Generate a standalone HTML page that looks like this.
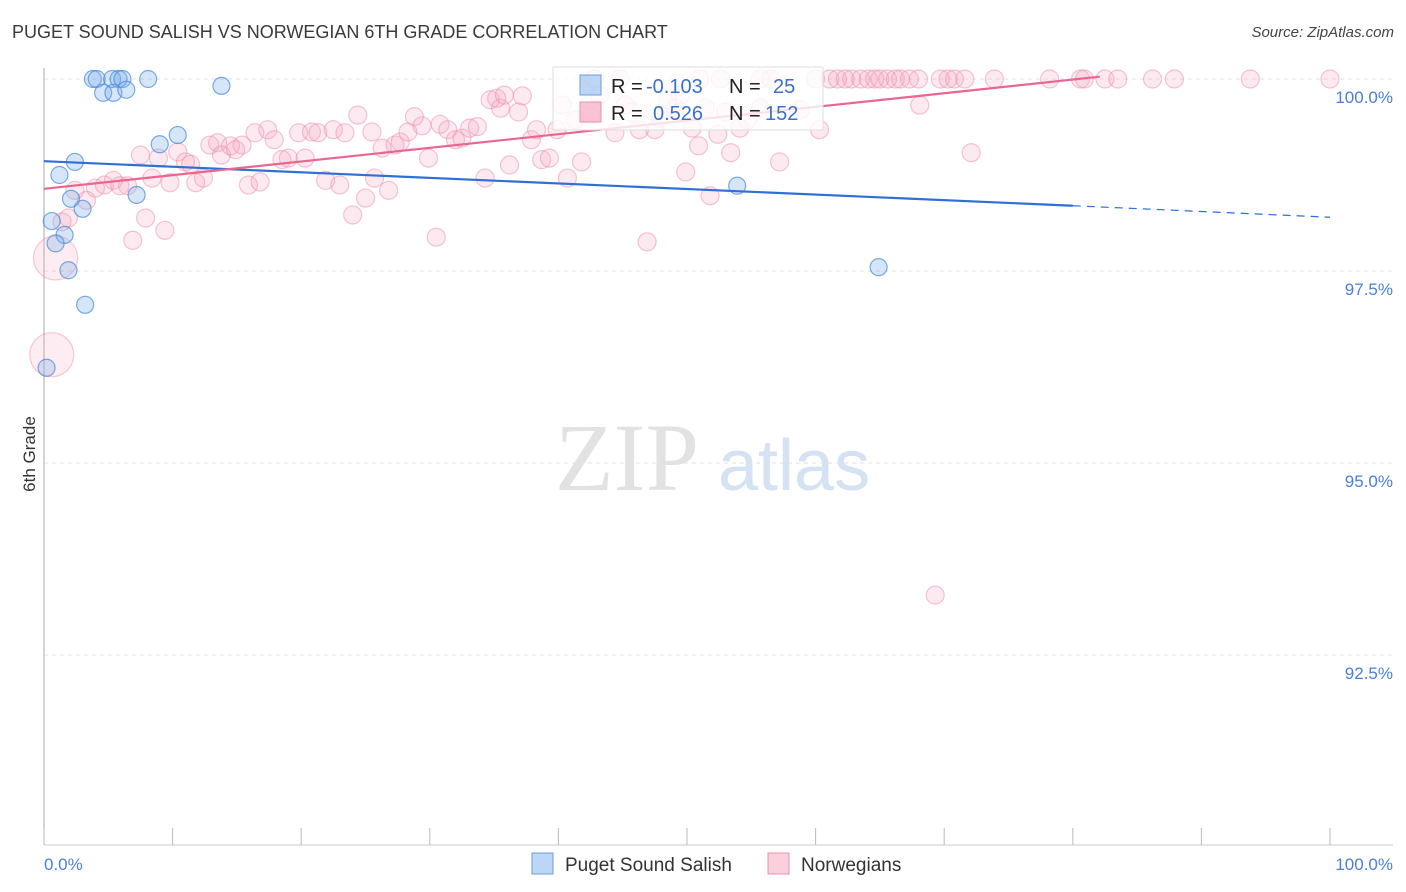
<!DOCTYPE html>
<html><head><meta charset="utf-8">
<style>
body{margin:0;background:#fff;font-family:"Liberation Sans",sans-serif;}
#wrap{position:relative;width:1406px;height:892px;overflow:hidden;}
.t{position:absolute;white-space:nowrap;}
</style></head>
<body>
<div id="wrap">
<div class="t" style="left:12px;top:22px;font-size:18px;color:#3a3a3a;">PUGET SOUND SALISH VS NORWEGIAN 6TH GRADE CORRELATION CHART</div>
<div class="t" style="right:12px;top:24px;font-size:15px;color:#444;font-style:italic;">Source: ZipAtlas.com</div>
<div class="t" style="left:-10px;top:444px;font-size:17px;color:#333;transform:rotate(-90deg);transform-origin:center;width:80px;text-align:center;">6th Grade</div>
<svg id="svg" width="1406" height="892" style="position:absolute;left:0;top:0"></svg>
</div>
<script>
const yTicks=[100,97.5,95,92.5];
const yTickLabels=["100.0%","97.5%","95.0%","92.5%"];
const xTickLabels=["0.0%","100.0%"];
const blueX=[3.8,4.1,5.3,5.8,6.1,8.1,4.6,5.4,6.4,13.8,9.0,10.4,2.4,1.2,2.1,3.0,0.6,1.6,0.9,7.2,1.9,3.2,0.2,53.9,64.9];
const blueY=[100,100,100,100,100,100,99.82,99.82,99.86,99.91,99.15,99.27,98.92,98.75,98.44,98.31,98.15,97.97,97.86,98.49,97.51,97.06,96.24,98.61,97.55];
const pinkX=[42.8,44.8,51.0,55.7,60.0,61.1,61.7,62.3,62.8,63.5,64.1,64.6,65.0,65.6,66.2,66.6,67.3,68.0,69.7,70.3,70.8,71.6,73.9,78.2,80.6,80.9,82.5,83.5,86.2,87.9,93.8,100,56.5,52.6,
1.4,1.9,2.4,3.3,4.0,4.7,5.4,5.9,6.5,6.9,7.5,7.9,8.4,8.9,9.4,9.8,10.4,11.0,11.4,11.8,12.4,12.9,13.5,13.8,14.5,14.9,15.4,15.9,16.4,16.8,17.4,17.9,18.5,19.0,19.8,20.3,20.8,21.3,21.9,22.5,23.0,23.4,24.0,24.4,25.0,25.5,25.7,26.3,26.8,27.3,27.7,28.3,28.8,29.4,29.9,30.5,30.8,31.4,32.0,32.5,33.1,33.7,34.3,34.7,35.2,35.5,35.8,36.2,36.9,37.2,37.9,38.3,38.7,39.3,39.9,40.3,40.7,41.3,41.8,42.5,43.2,44.4,45.2,45.7,46.3,46.9,47.5,47.9,48.5,49.1,49.5,49.9,50.4,50.9,51.4,51.8,52.4,53.0,53.4,54.1,54.7,55.7,57.2,58.8,60.3,68.1,72.1,69.3];
const pinkY=[100,100,100,100,100,100,100,100,100,100,100,100,100,100,100,100,100,100,100,100,100,100,100,100,100,100,100,100,100,100,100,100,100,100,
98.14,98.19,98.55,98.42,98.58,98.62,98.68,98.61,98.61,97.9,99.01,98.19,98.71,98.97,98.03,98.65,99.05,98.92,98.89,98.65,98.71,99.14,99.17,99.01,99.13,99.08,99.14,98.62,99.3,98.66,99.34,99.21,98.95,98.97,99.3,98.97,99.31,99.3,98.68,99.34,98.62,99.3,98.23,99.53,98.45,99.31,98.71,99.1,98.55,99.14,99.18,99.31,99.51,99.39,98.97,97.94,99.41,99.34,99.21,99.23,99.36,99.38,98.71,99.73,99.75,99.62,99.79,98.88,99.57,99.78,99.21,99.34,98.95,98.97,99.34,99.66,98.71,99.47,98.92,99.53,99.79,99.3,99.66,99.57,99.34,97.88,99.34,99.49,99.73,99.62,99.79,98.79,99.36,99.13,99.62,98.48,99.28,99.57,99.04,99.36,99.47,99.62,98.92,99.6,99.34,99.66,99.04,93.28];
const pinkLargeX=[0.9,0.6];
const pinkLargeY=[97.67,96.41];
const blueTrendX=[0,80,100];
const blueTrendY=[98.93,98.35,98.2];
const pinkTrendX=[0,82.1];
const pinkTrendY=[98.57,100.03];

const X0=44,X1=1330,Y100=79,PXPER=76.8;
const sx=v=>X0+(X1-X0)*v/100;
const sy=v=>Y100+(100-v)*PXPER;
const svg=document.getElementById('svg');
const NS='http://www.w3.org/2000/svg';
function mk(tag,attrs,parent){const e=document.createElementNS(NS,tag);for(const k in attrs)e.setAttribute(k,attrs[k]);(parent||svg).appendChild(e);return e;}

let wm=mk('text',{x:555,y:490,'font-size':96,fill:'#e2e2e2','font-family':'Liberation Serif, serif'});wm.textContent='ZIP';

let wm2=mk('text',{x:718,y:490,'font-size':72,fill:'#d4e2f4','font-family':'Liberation Sans, sans-serif'});wm2.textContent='atlas';


yTicks.forEach((v,i)=>{
 const g=mk('line',{x1:X0,x2:1393,y1:sy(v),y2:sy(v),stroke:'#e0e0e0','stroke-dasharray':'4,4'});
 
 const t=mk('text',{x:1393,y:sy(v)+24,'text-anchor':'end','font-size':17,fill:'#4a80d8'});t.textContent=yTickLabels[i];
 
});
let ax=mk('line',{x1:X0,x2:X0,y1:68,y2:845,stroke:'#aaa'});
let axx=mk('line',{x1:X0,x2:1393,y1:845,y2:845,stroke:'#ccc'});
for(let i=0;i<=10;i++){const tk=mk('line',{x1:sx(i*10),x2:sx(i*10),y1:828,y2:845,stroke:'#bbb'});}
[0,100].forEach((v,i)=>{const t=mk('text',{x:i?1393:44,y:870,'text-anchor':i?'end':'start','font-size':17,fill:'#4a80d8'});t.textContent=xTickLabels[i];});

function pts(xs,ys,r,fill,stroke,name){xs.forEach((x,i)=>{const c=mk('circle',{cx:sx(x),cy:sy(ys[i]),r:r,fill:fill,stroke:stroke,'stroke-width':1.2});});}
pts(pinkX,pinkY,9,'rgba(244,160,188,0.22)','rgba(236,140,170,0.5)','norwegian-point');
pts(pinkLargeX,pinkLargeY,22,'rgba(244,160,188,0.2)','rgba(236,140,170,0.45)','norwegian-point-large');
pts(blueX,blueY,8.5,'rgba(120,172,236,0.3)','rgba(70,135,220,0.7)','salish-point');

let bt=mk('line',{x1:sx(blueTrendX[0]),y1:sy(blueTrendY[0]),x2:sx(blueTrendX[1]),y2:sy(blueTrendY[1]),stroke:'#2f6fd6','stroke-width':2.2});

let bd=mk('line',{x1:sx(blueTrendX[1]),y1:sy(blueTrendY[1]),x2:sx(blueTrendX[2]),y2:sy(blueTrendY[2]),stroke:'#2f6fd6','stroke-width':1.2,'stroke-dasharray':'8,6'});

let pt=mk('line',{x1:sx(pinkTrendX[0]),y1:sy(pinkTrendY[0]),x2:sx(pinkTrendX[1]),y2:sy(pinkTrendY[1]),stroke:'#e8668f','stroke-width':2.2});


const lg=mk('g',{});
mk('rect',{x:553,y:67,width:270,height:63,fill:'rgba(255,255,255,0.8)',stroke:'#ddd'},lg);
mk('rect',{x:580,y:75,width:21,height:20,fill:'rgba(110,165,235,0.45)',stroke:'#6a9ee0'},lg);
mk('rect',{x:580,y:102,width:21,height:20,fill:'rgba(244,150,180,0.55)',stroke:'#e890aa'},lg);
function lt(x,y,txt,col){const t=mk('text',{x:x,y:y,'font-size':20,fill:col},lg);t.textContent=txt;}
lt(611,93,'R =','#222');lt(646,93,'-0.103','#3a70cc');lt(729,93,'N =','#222');lt(773,93,'25','#3a70cc');
lt(611,120,'R =','#222');lt(653,120,'0.526','#3a70cc');lt(729,120,'N =','#222');lt(765,120,'152','#3a70cc');

function bl(x,fill,stroke,txt,name){const g=mk('g',{});
 mk('rect',{x:x,y:853,width:21,height:21,fill:fill,stroke:stroke},g);
 const t=mk('text',{x:x+33,y:871,'font-size':19,fill:'#333'},g);t.textContent=txt;}
bl(532,'rgba(110,165,235,0.45)','#6a9ee0','Puget Sound Salish','legend-entry-salish');
bl(768,'rgba(244,150,180,0.45)','#e890aa','Norwegians','legend-entry-norwegians');
</script>
</body></html>
